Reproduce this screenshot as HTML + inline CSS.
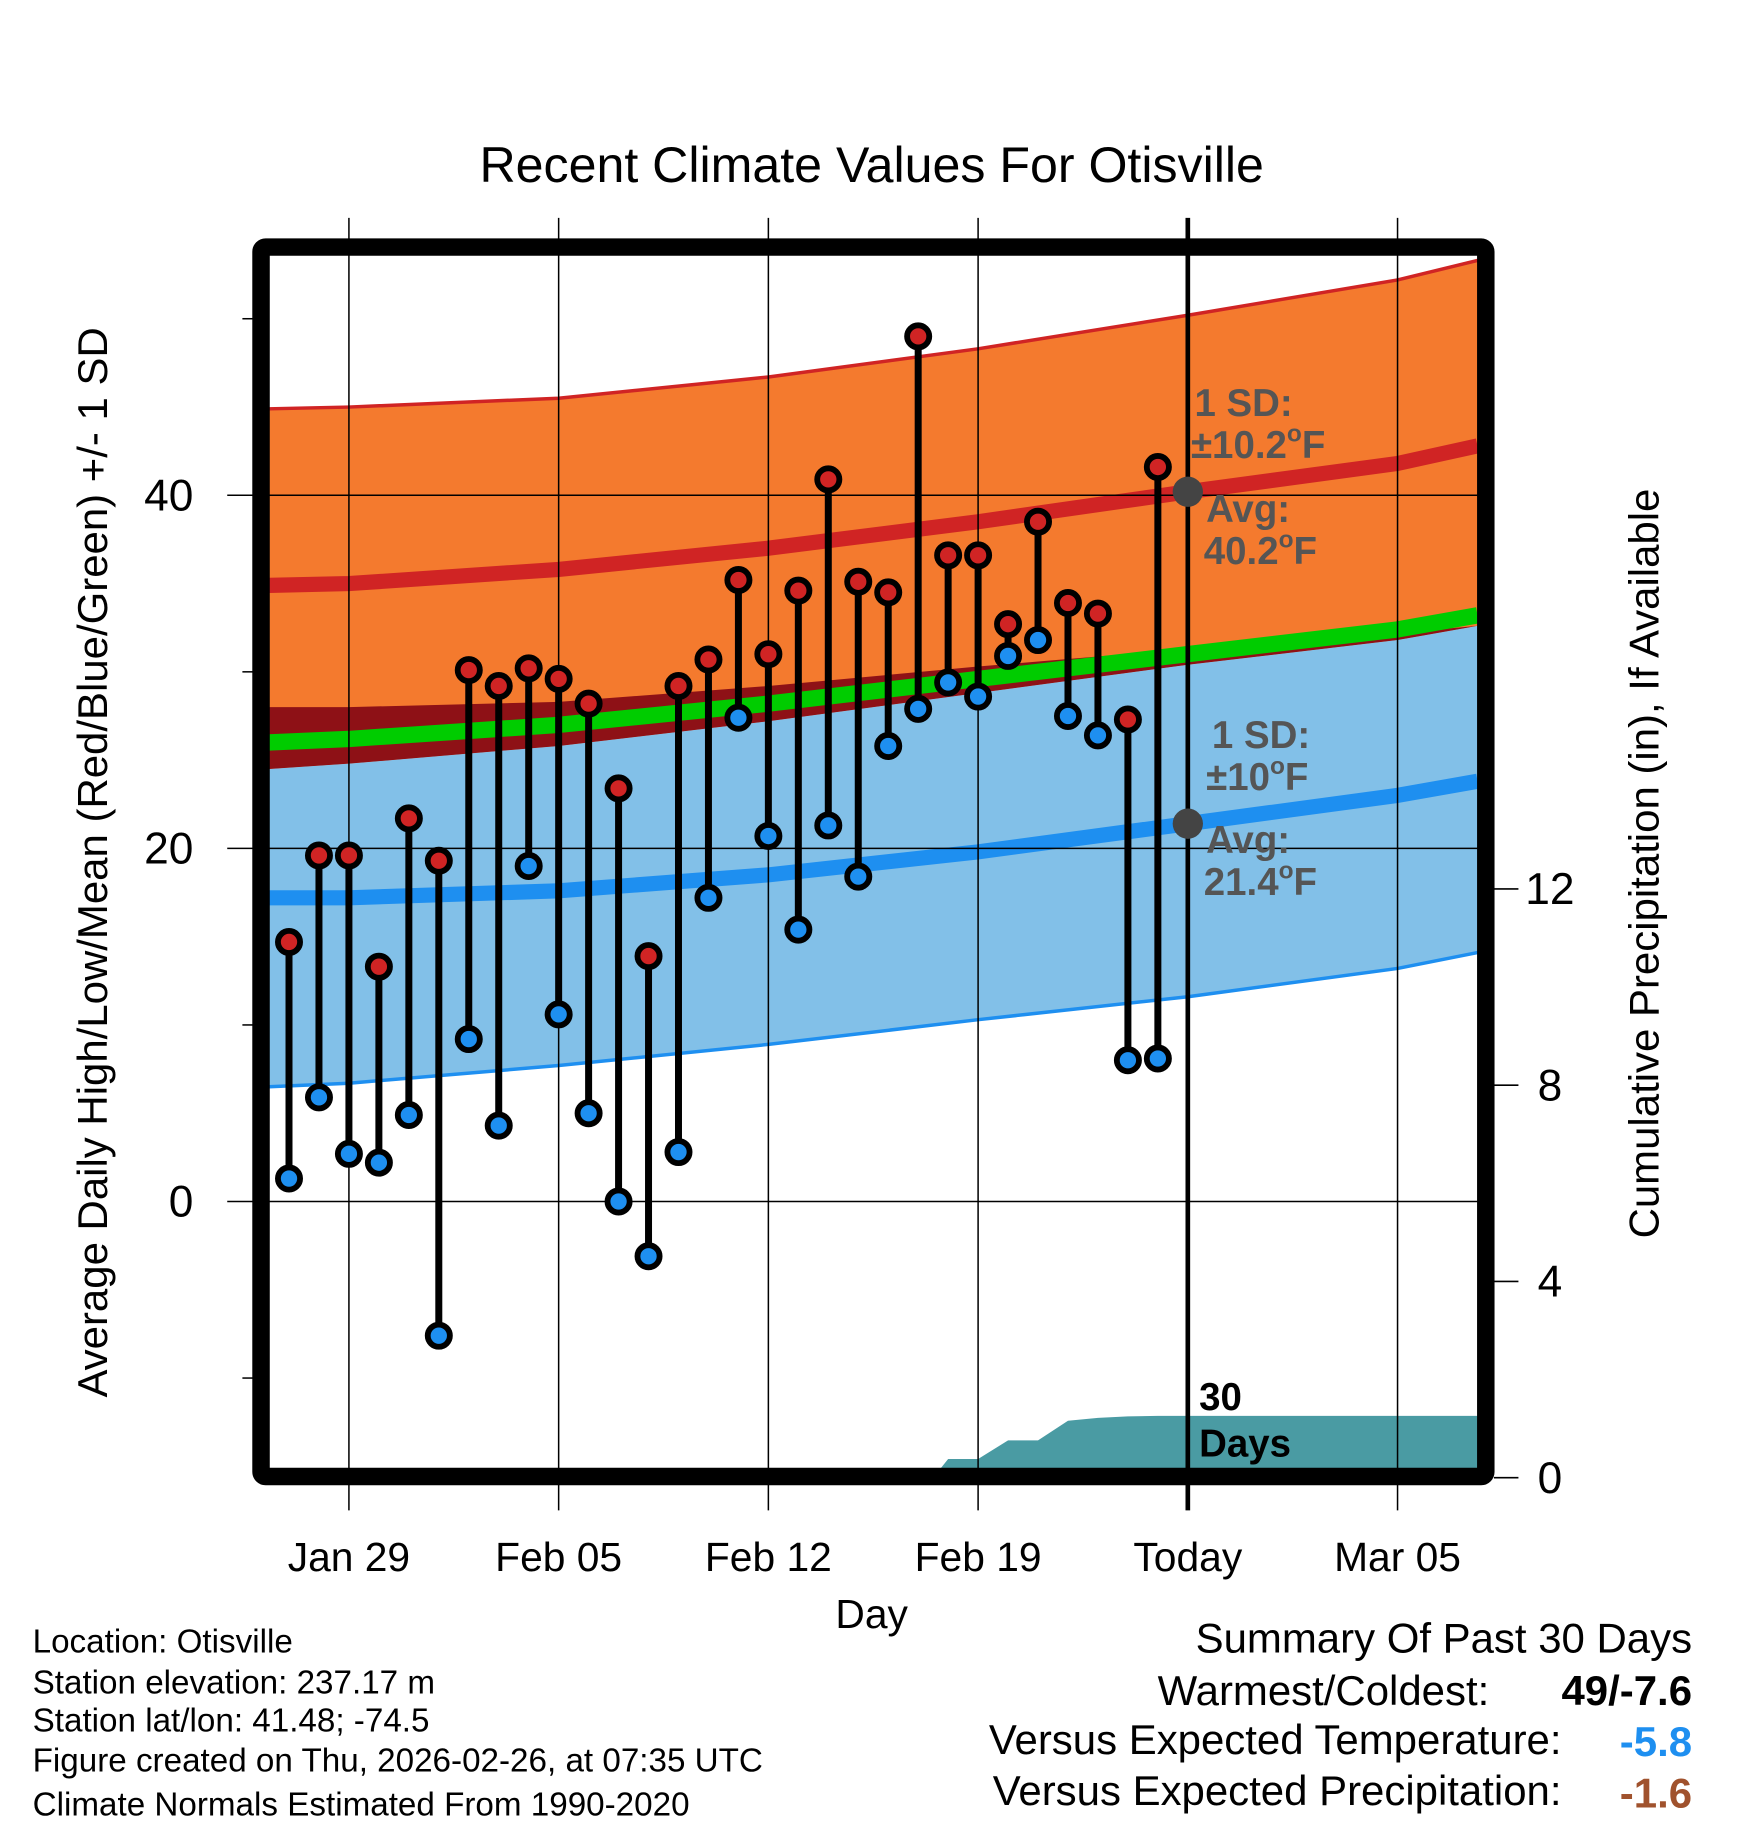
<!DOCTYPE html>
<html><head><meta charset="utf-8"><style>
html,body{margin:0;padding:0;background:#fff}
svg{display:block}
text{font-family:"Liberation Sans",sans-serif}
</style></head><body>
<svg id="chart" width="1748" height="1828" viewBox="0 0 1500 1568.6" preserveAspectRatio="none" xmlns="http://www.w3.org/2000/svg">
<g id="bands"></g>
<g id="precip"></g>
<g id="grid"></g>
<g id="marks"></g>
<g id="annot"></g>
<g id="axes"></g>
</svg>
<script>
// ---- data ----
const highs=[14.7,19.6,19.6,13.3,21.7,19.3,30.1,29.2,30.2,29.6,28.2,23.4,13.9,29.2,30.7,35.2,31.0,34.6,40.9,35.1,34.5,49.0,36.6,36.6,32.7,38.5,33.9,33.3,27.3,41.6];
const lows=[1.3,5.9,2.7,2.2,4.9,-7.6,9.2,4.3,19.0,10.6,5.0,0.0,-3.1,2.8,17.2,27.4,20.7,15.4,21.3,18.4,25.8,27.9,29.4,28.6,30.9,31.8,27.5,26.4,8.0,8.1];
const precipDays=[21.5,22,23,24,25,26,27,28,29,39.7];
const precipCum=[0,0.38,0.38,0.76,0.76,1.16,1.22,1.25,1.26,1.26];
const normDays=[-0.66,2,9,16,23,30,37,39.67];
const hiUpper=[44.9,45.0,45.5,46.7,48.3,50.2,52.2,53.3];
const hiAvg=[34.9,35.0,35.8,37.0,38.5,40.2,41.8,42.8];
const hiLower=[24.5,24.8,25.8,27.2,28.8,30.4,31.8,32.6];
const loUpper=[28.0,28.0,28.3,29.2,30.3,31.3,32.2,32.6];
const meanT=[26.0,26.2,27.0,28.2,29.6,31.0,32.4,33.2];
const loAvg=[17.2,17.2,17.6,18.5,19.8,21.4,23.0,23.8];
const loLower=[6.5,6.7,7.7,8.9,10.3,11.6,13.2,14.1];
const xTickDays=[2,9,16,23,30,37];
const xTickLabels=["Jan 29","Feb 05","Feb 12","Feb 19","Today","Mar 05"];
const yTicks=[0,20,40];
const yMinor=[-10,10,30,50];
const pTicks=[0,4,8,12];

// ---- scales ----
const X=d=>248+d*25.71;
const Y=v=>1031-v*15.15;
const P=v=>1268-v*42.1;
const NS='http://www.w3.org/2000/svg';
function mk(tag,attrs,parent){const e=document.createElementNS(NS,tag);for(const k in attrs)e.setAttribute(k,attrs[k]);parent.appendChild(e);return e;}
const bands=document.getElementById('bands'),grid=document.getElementById('grid'),marks=document.getElementById('marks'),annot=document.getElementById('annot'),axes=document.getElementById('axes'),precip=document.getElementById('precip');
function line(arr){return normDays.map((d,i)=>X(d).toFixed(1)+','+Y(arr[i]).toFixed(1)).join(' ');}
function band(top,bot){return normDays.map((d,i)=>X(d)+','+Y(top[i])).concat(normDays.slice().reverse().map((d,j)=>{const i=normDays.length-1-j;return X(d)+','+Y(bot[i]);})).join(' ');}
let e;
e=mk('polygon',{points:band(hiUpper,hiLower),fill:'#f47a2e'},bands);

e=mk('polygon',{points:band(hiLower,loLower),fill:'#82c0e8'},bands);

e=mk('polygon',{points:band(loUpper,hiLower),fill:'#8e1116'},bands);

e=mk('polyline',{points:line(hiUpper),fill:'none',stroke:'#d02424','stroke-width':3},bands);

e=mk('polyline',{points:line(loLower),fill:'none',stroke:'#1e8ff0','stroke-width':3},bands);

e=mk('polyline',{points:line(hiAvg),fill:'none',stroke:'#d02424','stroke-width':13},bands);

e=mk('polyline',{points:line(loAvg),fill:'none',stroke:'#1e8ff0','stroke-width':13},bands);

e=mk('polyline',{points:line(meanT),fill:'none',stroke:'#00cc00','stroke-width':14},bands);

// precip
let pp=X(precipDays[0])+','+P(0)+' '+precipDays.map((d,i)=>X(d)+','+P(precipCum[i])).join(' ')+' '+X(precipDays[precipDays.length-1])+','+P(0);
e=mk('polygon',{points:pp,fill:'#4a9ba3'},precip);

// grid
xTickDays.forEach((d,i)=>{
  e=mk('line',{x1:X(d),x2:X(d),y1:187,y2:1296,stroke:'#000','stroke-width':d===30?4:1.3},grid);
  
  e=mk('text',{x:X(d),y:1348,'text-anchor':'middle','font-size':35},axes);e.textContent=xTickLabels[i];
  
});
yTicks.forEach(v=>{
  e=mk('line',{x1:195,x2:1268,y1:Y(v),y2:Y(v),stroke:'#000','stroke-width':1.3},grid);
  
  e=mk('text',{x:166,y:Y(v)+13,'text-anchor':'end','font-size':38},axes);e.textContent=v;
  
});
yMinor.forEach(v=>{e=mk('line',{x1:208,x2:220,y1:Y(v),y2:Y(v),stroke:'#000','stroke-width':1.3},axes);
  });
pTicks.forEach(v=>{
  e=mk('line',{x1:1282,x2:1303,y1:P(v),y2:P(v),stroke:'#000','stroke-width':1.3},axes);
  
  e=mk('text',{x:1330,y:P(v)+13,'text-anchor':'middle','font-size':38},axes);e.textContent=v;
  
});
// marks
highs.forEach((h,i)=>{
  const x=X(i);
  e=mk('line',{x1:x,x2:x,y1:Y(h),y2:Y(lows[i]),stroke:'#000','stroke-width':6},marks);
  
});
highs.forEach((h,i)=>{
  const x=X(i);
  e=mk('circle',{cx:x,cy:Y(h),r:9.5,fill:'#d02424',stroke:'#000','stroke-width':5},marks);
  
  e=mk('circle',{cx:x,cy:Y(lows[i]),r:9.5,fill:'#1e8ff0',stroke:'#000','stroke-width':5},marks);
  
});
// annotation dots
e=mk('circle',{cx:X(30),cy:Y(hiAvg[5]),r:13,fill:'#444'},annot);

e=mk('circle',{cx:X(30),cy:Y(loAvg[5]),r:13,fill:'#444'},annot);

</script>
<svg style="position:absolute;left:0;top:0" width="1748" height="1828" viewBox="0 0 1500 1568.6" preserveAspectRatio="none" xmlns="http://www.w3.org/2000/svg">
<rect x="224" y="212" width="1051" height="1055" fill="none" stroke="#000" stroke-width="15" rx="4"/>
<text x="748" y="156" text-anchor="middle" font-size="43">Recent Climate Values For Otisville</text>
<text transform="translate(92,740) rotate(-90)" text-anchor="middle" font-size="36">Average Daily High/Low/Mean (Red/Blue/Green) +/- 1 SD</text>
<text transform="translate(1423,741) rotate(-90)" text-anchor="middle" font-size="36">Cumulative Precipitation (in), If Available</text>
<text x="748" y="1397" text-anchor="middle" font-size="35">Day</text>
<g font-size="33" font-weight="bold" fill="#555">
<text x="1025" y="357">1 SD:</text>
<text x="1022" y="393">±10.2<tspan font-size="21" dy="-14">o</tspan><tspan dy="14">F</tspan></text>
<text x="1035" y="448">Avg:</text>
<text x="1033" y="484">40.2<tspan font-size="21" dy="-14">o</tspan><tspan dy="14">F</tspan></text>
</g>
<g font-size="33" font-weight="bold" fill="#555">
<text x="1040" y="642">1 SD:</text>
<text x="1035" y="678">±10<tspan font-size="21" dy="-14">o</tspan><tspan dy="14">F</tspan></text>
<text x="1035" y="732">Avg:</text>
<text x="1033" y="768">21.4<tspan font-size="21" dy="-14">o</tspan><tspan dy="14">F</tspan></text>
</g>
<text x="1029" y="1210" font-size="33" font-weight="bold">30</text>
<text x="1029" y="1250" font-size="33" font-weight="bold">Days</text>
<g font-size="28.5">
<text x="28" y="1418">Location: Otisville</text>
<text x="28" y="1453">Station elevation: 237.17 m</text>
<text x="28" y="1486">Station lat/lon: 41.48; -74.5</text>
<text x="28" y="1520">Figure created on Thu, 2026-02-26, at 07:35 UTC</text>
<text x="28" y="1558">Climate Normals Estimated From 1990-2020</text>
</g>
<g font-size="36" text-anchor="end">
<text x="1452" y="1418">Summary Of Past 30 Days</text>
<text x="1278" y="1463">Warmest/Coldest:</text>
<text x="1452" y="1463" font-weight="bold">49/-7.6</text>
<text x="1340" y="1505">Versus Expected Temperature:</text>
<text x="1452" y="1507" font-weight="bold" fill="#1e8ff0">-5.8</text>
<text x="1340" y="1549">Versus Expected Precipitation:</text>
<text x="1452" y="1551" font-weight="bold" fill="#a0522d">-1.6</text>
</g>
</svg>
</body></html>
